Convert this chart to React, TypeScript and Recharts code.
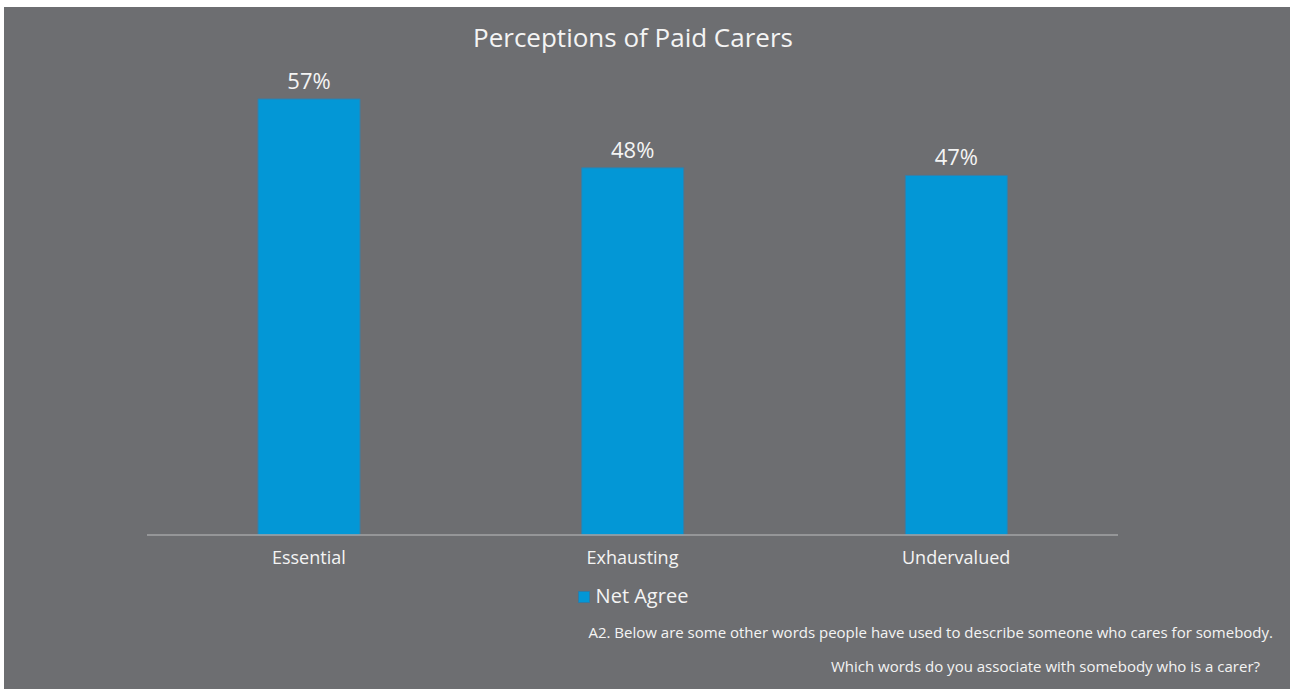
import React from "react";
import { BarChart, Bar, XAxis, YAxis, LabelList, Legend } from "recharts";

const categories = ["Essential", "Exhausting", "Undervalued"];
const netAgree = [57, 48, 47];
const seriesName = "Net Agree";
const title = "Perceptions of Paid Carers";
const footnoteLines = [
  "A2. Below are some other words people have used to describe someone who cares for somebody.",
  "Which words do you associate with somebody who is a carer?",
];

const data = categories.map((c, i) => ({ category: c, value: netAgree[i] }));

const BG = "#6d6e71";
const BAR = "#0397d6";
const TEXT = "#f4f4f4";
const FONT = "'Open Sans', 'Noto Sans', sans-serif";

const LegendContent = () => (
  <div style={{ display: "flex", alignItems: "center", justifyContent: "center", fontFamily: FONT, color: TEXT, fontSize: 20, height: 26 }}>
    <span style={{ display: "inline-block", width: 10, height: 10, background: BAR, border: "1px solid #2f7ba6", marginRight: 6, marginTop: 4 }} />
    <span>{seriesName}</span>
  </div>
);

export default function App() {
  return (
    <div style={{ position: "absolute", left: 4, top: 7, width: 1286, height: 682, background: BG, overflow: "hidden" }}>
      <div style={{ position: "absolute", top: 13, left: 0, width: 1258, textAlign: "center", fontFamily: FONT, fontSize: 26, color: TEXT, lineHeight: "34px" }}>
        {title}
      </div>
      <BarChart width={1286} height={682} data={data} margin={{ top: 69, right: 172, left: 143, bottom: 124 }}>
        <YAxis hide domain={[0, 60]} />
        <XAxis
          dataKey="category"
          axisLine={{ stroke: "#a3a4a6", strokeWidth: 1.5 }}
          tickLine={false}
          tickMargin={10}
          tick={{ fill: TEXT, fontSize: 18, fontFamily: FONT }}
        />
        <Legend verticalAlign="middle" layout="horizontal" content={<LegendContent />} wrapperStyle={{ position: "absolute", top: 575, left: 0, width: 1258 }} />
        <Bar dataKey="value" name={seriesName} fill={BAR} stroke="#3a7ea6" strokeWidth={1} barSize={102} isAnimationActive={false}>
          <LabelList dataKey="value" position="top" offset={10} formatter={(v: any) => `${v}%`} style={{ fill: TEXT, fontSize: 22, fontFamily: FONT }} />
        </Bar>
      </BarChart>
      <div style={{ position: "absolute", right: 17, top: 615, fontFamily: FONT, fontSize: 15, color: TEXT, whiteSpace: "nowrap" }}>
        {footnoteLines[0]}
      </div>
      <div style={{ position: "absolute", right: 30, top: 649, fontFamily: FONT, fontSize: 15, color: TEXT, whiteSpace: "nowrap" }}>
        {footnoteLines[1]}
      </div>
    </div>
  );
}
